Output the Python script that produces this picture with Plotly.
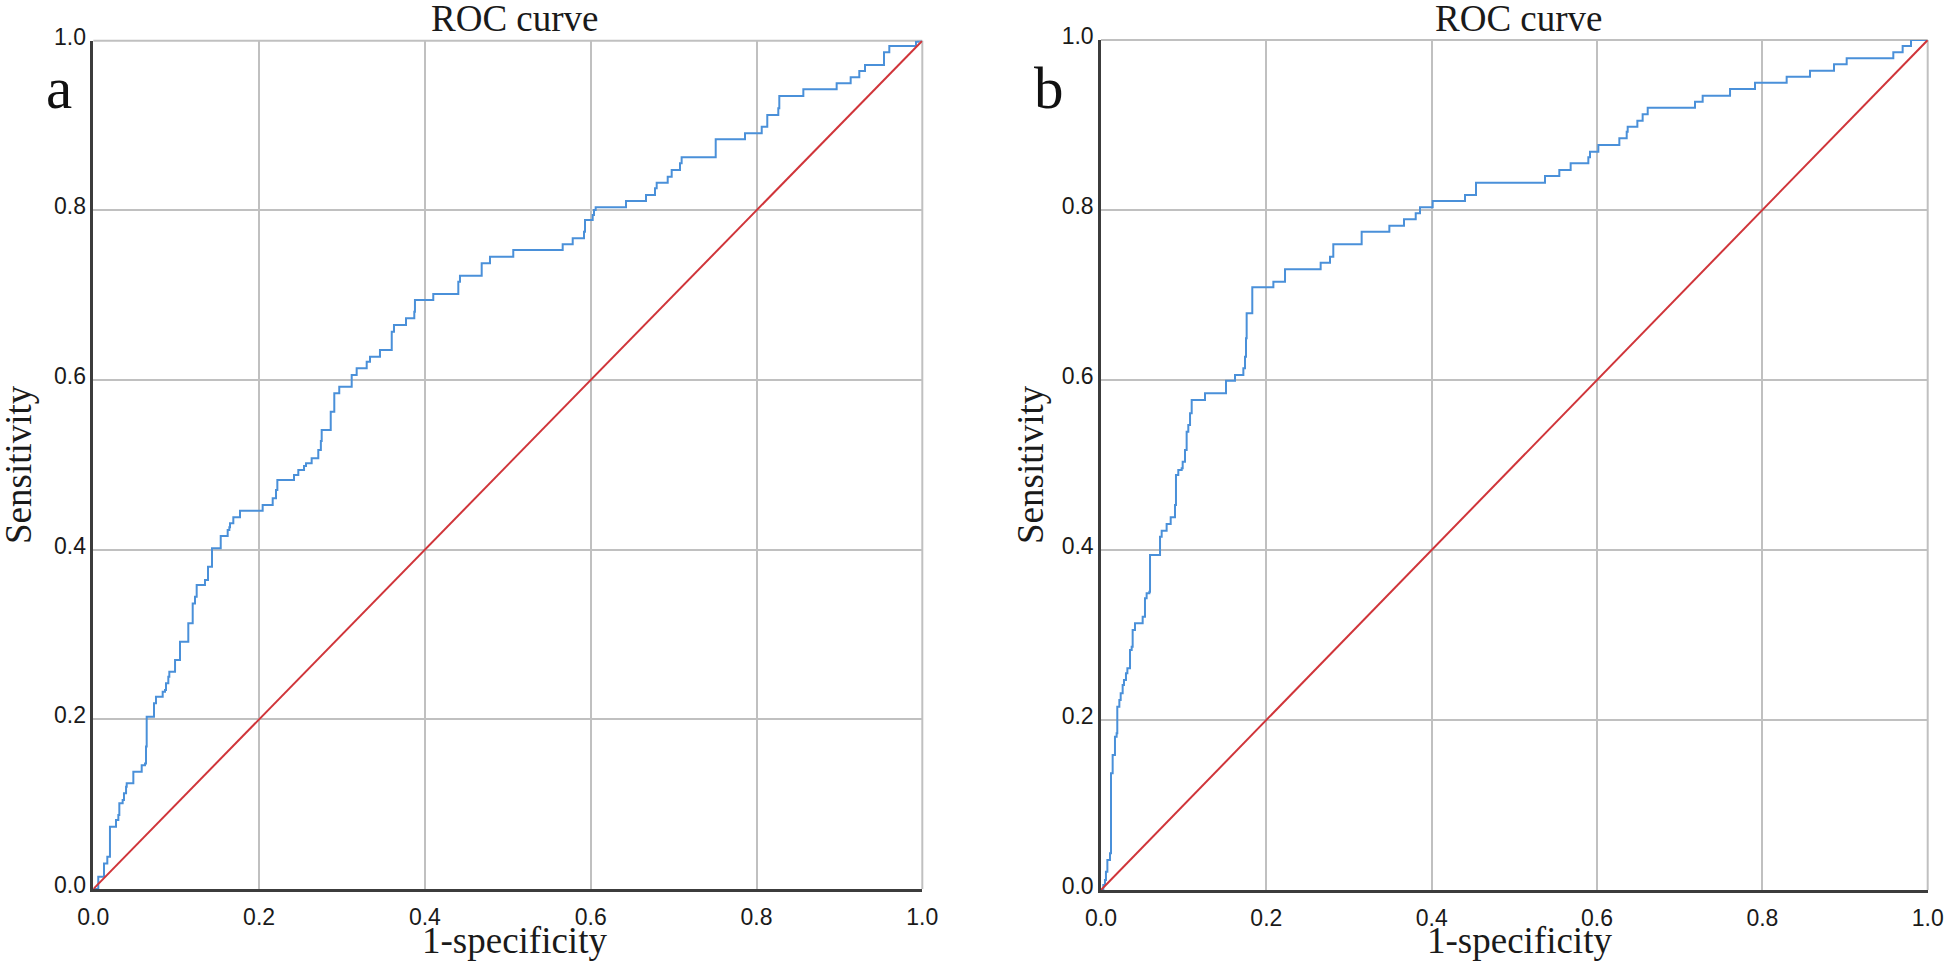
import plotly.graph_objects as go

# ---- data ----
fpr_a = [0, 0.006, 0.0129, 0.0169, 0.0201, 0.0274, 0.0302, 0.0314, 0.0354, 0.037,
         0.0395, 0.0403, 0.0483, 0.0584, 0.0624, 0.0636, 0.0644, 0.0732, 0.0756, 0.0837,
         0.0865, 0.0877, 0.0905, 0.0917, 0.0986, 0.1046, 0.1146, 0.1199, 0.1227, 0.1247,
         0.1347, 0.1384, 0.1432, 0.1537, 0.1621, 0.1641, 0.1649, 0.1689, 0.177, 0.2043,
         0.2164, 0.2204, 0.222, 0.2421, 0.2473, 0.2542, 0.2566, 0.2634, 0.2714, 0.2745,
         0.2755, 0.2864, 0.2907, 0.2967, 0.3117, 0.3177, 0.3298, 0.3338, 0.3458, 0.36,
         0.3627, 0.3772, 0.3872, 0.388, 0.4101, 0.4403, 0.4423, 0.4685, 0.4785, 0.5066,
         0.5662, 0.5783, 0.5919, 0.5931, 0.6024, 0.604, 0.606, 0.6426, 0.6667, 0.6776,
         0.6796, 0.6929, 0.6977, 0.7077, 0.7097, 0.7508, 0.7861, 0.8063, 0.813, 0.8263,
         0.8275, 0.8565, 0.8967, 0.9136, 0.924, 0.9309, 0.9538, 0.9602, 0.9924, 0.995,
         1.0]
tpr_a = [0, 0.0145, 0.030, 0.038, 0.0735, 0.0813, 0.0872, 0.101, 0.105, 0.1128,
         0.1206, 0.1246, 0.1383, 0.146, 0.148, 0.168, 0.203, 0.219, 0.2267, 0.2326,
         0.2346, 0.2425, 0.2503, 0.2562, 0.270, 0.2916, 0.3132, 0.3367, 0.3446, 0.3584,
         0.3643, 0.380, 0.4016, 0.4161, 0.4232, 0.4264, 0.4311, 0.4381, 0.446, 0.4527,
         0.4605, 0.4703, 0.4821, 0.488, 0.494, 0.4986, 0.5018, 0.5077, 0.5175, 0.528,
         0.541, 0.5627, 0.5843, 0.5921, 0.6059, 0.6138, 0.6216, 0.6275, 0.6354, 0.657,
         0.6649, 0.6727, 0.6806, 0.6943, 0.7014, 0.7159, 0.723, 0.7376, 0.7454, 0.7533,
         0.76, 0.767, 0.7749, 0.7886, 0.7945, 0.8004, 0.8036, 0.811, 0.818, 0.826,
         0.8326, 0.8397, 0.8476, 0.8555, 0.8625, 0.8837, 0.8908, 0.8986, 0.9124, 0.9203,
         0.9348, 0.9427, 0.9498, 0.9568, 0.9643, 0.9713, 0.9863, 0.9937, 0.9988, 1.0,
         1.0]

fpr_b = [0, 0.0028, 0.0048, 0.006, 0.0077, 0.0109, 0.0121, 0.0141, 0.0169, 0.0189,
         0.0197, 0.0222, 0.0238, 0.0262, 0.0278, 0.0302, 0.0319, 0.0351, 0.0371, 0.0383,
         0.0411, 0.0504, 0.0532, 0.0552, 0.0585, 0.0593, 0.0714, 0.0734, 0.0794, 0.0843,
         0.0895, 0.0907, 0.0935, 0.0976, 0.0988, 0.1016, 0.1036, 0.1056, 0.1077, 0.1097,
         0.1258, 0.1512, 0.1621, 0.1722, 0.1742, 0.1754, 0.1762, 0.183, 0.2085, 0.2226,
         0.2657, 0.277, 0.281, 0.3153, 0.3488, 0.3665, 0.3807, 0.3859, 0.4012, 0.4403,
         0.4536, 0.5371, 0.5544, 0.5681, 0.5895, 0.5915, 0.6016, 0.627, 0.6359, 0.6371,
         0.6488, 0.6552, 0.6613, 0.7185, 0.7278, 0.7609, 0.7911, 0.8294, 0.8576, 0.8867,
         0.902, 0.9584, 0.9697, 0.9798, 1.0]
tpr_b = [0, 0.0059, 0.0118, 0.0216, 0.0353, 0.0431, 0.1373, 0.1588, 0.1804, 0.1843,
         0.2157, 0.2235, 0.2314, 0.2412, 0.2471, 0.2549, 0.2608, 0.2824, 0.2863, 0.3059,
         0.3137, 0.3216, 0.3431, 0.349, 0.351, 0.3941, 0.4157, 0.4227, 0.4306, 0.4385,
         0.4529, 0.4882, 0.4941, 0.4961, 0.5039, 0.5176, 0.5392, 0.5471, 0.5608, 0.5765,
         0.5843, 0.5992, 0.6059, 0.6137, 0.6274, 0.649, 0.6784, 0.709, 0.7157, 0.7302,
         0.738, 0.7451, 0.7596, 0.7745, 0.7816, 0.789, 0.7961, 0.8031, 0.8106, 0.8176,
         0.8321, 0.84, 0.8471, 0.8549, 0.862, 0.8686, 0.8765, 0.8843, 0.8922, 0.898,
         0.9051, 0.9126, 0.9204, 0.9275, 0.9345, 0.9424, 0.9498, 0.9569, 0.9639, 0.9714,
         0.9784, 0.9855, 0.9929, 1.0, 1.0]

ref_x = [0, 1]
ref_y = [0, 1]

tick_vals = [0.0, 0.2, 0.4, 0.6, 0.8, 1.0]
tick_text = ["0.0", "0.2", "0.4", "0.6", "0.8", "1.0"]
panel_labels = ["a", "b"]
plot_title = "ROC curve"
x_title = "1-specificity"
y_title = "Sensitivity"

# ---- styling ----
W, H = 1946, 967
BLUE = "#4a90d9"
RED = "#d0353a"
GRID = "#c0c0c0"
AXIS = "#3c3c3c"
SERIF = "Liberation Serif, Times New Roman, serif"
SANS = "Liberation Sans, Arial, sans-serif"

# pixel boxes of the two plot areas (left, right, top, bottom)
boxes = [(93.3, 922.3, 40.7, 889.0), (1101.0, 1927.7, 40.0, 890.0)]

fig = go.Figure()

for i, (fx, ty) in enumerate([(fpr_a, tpr_a), (fpr_b, tpr_b)]):
    xa = "x" if i == 0 else "x2"
    ya = "y" if i == 0 else "y2"
    fig.add_trace(go.Scatter(x=fx, y=ty, mode="lines", line=dict(color=BLUE, width=2, shape="hv"),
                             xaxis=xa, yaxis=ya, showlegend=False, cliponaxis=False))
    fig.add_trace(go.Scatter(x=ref_x, y=ref_y, mode="lines", line=dict(color=RED, width=2),
                             xaxis=xa, yaxis=ya, showlegend=False, cliponaxis=False))

def ax_common():
    return dict(range=[0, 1], tickvals=tick_vals, ticktext=tick_text,
                showgrid=True, gridcolor=GRID, gridwidth=2,
                showline=True, linecolor=AXIS, linewidth=2.5,
                zeroline=False, ticks="outside", tickcolor="rgba(0,0,0,0)",
                tickfont=dict(family=SANS, size=23, color="#1a1a1a"),
                automargin=False, fixedrange=True)

layout = dict(width=W, height=H, autosize=False,
              margin=dict(l=0, r=0, t=0, b=0, pad=0),
              paper_bgcolor="white", plot_bgcolor="white",
              showlegend=False)

annotations = []
shapes = []
for i, (l, r, t, b) in enumerate(boxes):
    xd = [l / W, r / W]
    yd = [(H - b) / H, (H - t) / H]
    xk = "xaxis" if i == 0 else "xaxis2"
    yk = "yaxis" if i == 0 else "yaxis2"
    xa = ax_common()
    xa.update(domain=xd, anchor="y" if i == 0 else "y2", ticklen=6)
    ya = ax_common()
    ya.update(domain=yd, anchor="x" if i == 0 else "x2", ticklen=0, ticklabelshift=-4)
    layout[xk] = xa
    layout[yk] = ya
    xr = "x domain" if i == 0 else "x2 domain"
    yr = "y domain" if i == 0 else "y2 domain"
    # light top/right border like the gridlines
    shapes.append(dict(type="line", xref=xr, yref=yr, x0=0, x1=1, y0=1, y1=1,
                       line=dict(color=GRID, width=2), layer="below"))
    shapes.append(dict(type="line", xref=xr, yref=yr, x0=1, x1=1, y0=0, y1=1,
                       line=dict(color=GRID, width=2), layer="below"))

# text positions in pixels
titles = [(515, 18), (1519, 18)]
xtitles = [(514, 940), (1519, 940)]
ytitles = [(18, 465), (1030, 465)]
plabels = [(58.5, 88), (1048.5, 88)]

for i in range(2):
    annotations.append(dict(text=plot_title, x=titles[i][0] / W, y=1 - titles[i][1] / H,
                            xref="paper", yref="paper", showarrow=False,
                            xanchor="center", yanchor="middle",
                            font=dict(family=SERIF, size=37, color="#1a1a1a")))
    annotations.append(dict(text=x_title, x=xtitles[i][0] / W, y=1 - xtitles[i][1] / H,
                            xref="paper", yref="paper", showarrow=False,
                            xanchor="center", yanchor="middle",
                            font=dict(family=SERIF, size=37, color="#1a1a1a")))
    annotations.append(dict(text=y_title, x=ytitles[i][0] / W, y=1 - ytitles[i][1] / H,
                            xref="paper", yref="paper", showarrow=False, textangle=-90,
                            xanchor="center", yanchor="middle",
                            font=dict(family=SERIF, size=37, color="#1a1a1a")))
    annotations.append(dict(text=panel_labels[i], x=plabels[i][0] / W, y=1 - plabels[i][1] / H,
                            xref="paper", yref="paper", showarrow=False,
                            xanchor="center", yanchor="middle",
                            font=dict(family=SERIF, size=59, color="#111111")))

layout["annotations"] = annotations
layout["shapes"] = shapes
fig.update_layout(**layout)

# remove the browser's default 8px body margin so the figure fills the window exactly
fig.write_html("out.html", config={"displayModeBar": False},
               post_script="document.body.style.margin='0';document.body.style.overflow='hidden';")
